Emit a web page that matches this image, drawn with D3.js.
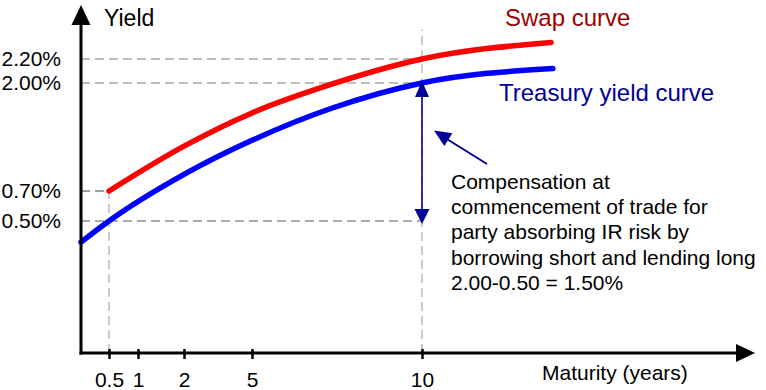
<!DOCTYPE html>
<html>
<head>
<meta charset="utf-8">
<script src="https://cdn.jsdelivr.net/npm/d3@7"></script>
<style>
  body { margin: 0; background: #fff; }
  text { font-family: "Liberation Sans", Arial, sans-serif; }
</style>
</head>
<body>
<svg id="chart" width="766" height="390"></svg>
<script>
// values
const maturityTicks = [0.5, 1, 2, 5, 10];
const yieldTicks = [0.5, 0.7, 2.0, 2.2];

const swapMaturity = [0.5, 2, 5, 7.3, 10, 13.8];
const swapYield = [0.70, 1.24, 1.64, 1.98, 2.20, 2.34];

const tsyMaturity = [0, 0.5, 2, 5, 7.3, 10, 13.85];
const tsyYield = [0.42, 0.50, 0.90, 1.31, 1.69, 2.00, 2.12];

const noteLines = [
  "Compensation at",
  "commencement of trade for",
  "party absorbing IR risk by",
  "borrowing short and lending long",
  "2.00-0.50 = 1.50%"
];

const swap = swapMaturity.map((m, i) => ({m: m, y: swapYield[i]}));
const tsy = tsyMaturity.map((m, i) => ({m: m, y: tsyYield[i]}));

let svg = d3.select('#chart');

// the axes in the picture are not even, so piecewise scales
let x = d3.scaleLinear()
  .domain([0, 0.5, 1, 2, 5, 10, 15])
  .range([81, 109, 138, 184, 252, 422, 592]);

let y = d3.scaleLinear()
  .domain([0, 0.5, 0.7, 2.0, 2.2, 2.5])
  .range([353, 221, 191, 83, 59, 23.5]);

const navy = "#000096";

function arrowHead(g, tx, ty, fx, fy, len, half, color) {
  let dx = tx - fx, dy = ty - fy;
  let d = Math.sqrt(dx * dx + dy * dy);
  let ux = dx / d, uy = dy / d;
  let bx = tx - ux * len, by = ty - uy * len;
  let pts = [[tx, ty], [bx - uy * half, by + ux * half], [bx + uy * half, by - ux * half]];
  g.append("path")
    .attr("d", "M" + pts.map(p => p.join(",")).join("L") + "Z")
    .attr("fill", color);
}

// dashed guide lines
let guides = svg.append("g")
  .attr("fill", "none")
  .attr("stroke-width", 1.3)
  .attr("stroke-dasharray", "9,5");

function guide(x1, y1, x2, y2, color) {
  guides.append("line")
    .attr("x1", x1).attr("y1", y1)
    .attr("x2", x2).attr("y2", y2)
    .attr("stroke", color);
}

guide(x(0), y(2.2), x(10), y(2.2), "#a8a8a8");
guide(x(0), y(2.0), x(10), y(2.0), "#a8a8a8");
guide(x(0), y(0.7), x(0.5), y(0.7), "#808080");
guide(x(0), y(0.5), x(10), y(0.5), "#909090");
guide(x(0.5), y(0), x(0.5), y(0.7), "#b0b0b0");
guide(x(10), y(0), x(10), y(2.45), "#b0b0b0");

// curves
let line = d3.line()
  .x(d => x(d.m))
  .y(d => y(d.y))
  .curve(d3.curveMonotoneX);

svg.append("path")
  .datum(swap)
  .attr("fill", "none")
  .attr("stroke", "#ff0000")
  .attr("stroke-width", 5.5)
  .attr("stroke-linecap", "round")
  .attr("d", line);

svg.append("path")
  .datum(tsy)
  .attr("fill", "none")
  .attr("stroke", "#0000ff")
  .attr("stroke-width", 5.5)
  .attr("stroke-linecap", "round")
  .attr("d", line);

// axes
let axes = svg.append("g");

axes.append("line")
  .attr("x1", x(0)).attr("y1", y(0) + 1.5)
  .attr("x2", x(0)).attr("y2", 24)
  .attr("stroke", "#000").attr("stroke-width", 3);
arrowHead(axes, x(0), 5, x(0), 100, 20, 9.5, "#000");

axes.append("line")
  .attr("x1", x(0) - 1.5).attr("y1", y(0))
  .attr("x2", 738).attr("y2", y(0))
  .attr("stroke", "#000").attr("stroke-width", 3);
arrowHead(axes, 755, y(0), 600, y(0), 19, 9, "#000");

let xAxis = svg.append("g")
  .attr("transform", "translate(0," + y(0) + ")")
  .call(d3.axisBottom(x)
    .tickValues(maturityTicks)
    .tickSize(6)
    .tickPadding(13)
    .tickFormat(d3.format("")));
xAxis.select(".domain").remove();
xAxis.selectAll(".tick line")
  .attr("y1", -4)
  .attr("stroke", "#000")
  .attr("stroke-width", 2.5);
xAxis.selectAll(".tick text")
  .attr("fill", "#000")
  .style("font-size", "21px")
  .style("font-family", "'Liberation Sans', Arial, sans-serif");

let yAxis = svg.append("g")
  .attr("transform", "translate(" + x(0) + ",0)")
  .call(d3.axisLeft(y)
    .tickValues(yieldTicks)
    .tickSize(0)
    .tickPadding(20)
    .tickFormat(d => d.toFixed(2) + "%"));
yAxis.select(".domain").remove();
yAxis.selectAll(".tick text")
  .attr("fill", "#000")
  .attr("dy", "0.3em")
  .style("font-size", "21px")
  .style("font-family", "'Liberation Sans', Arial, sans-serif");

svg.append("text")
  .attr("x", 104).attr("y", 26)
  .style("font-size", "23px")
  .text("Yield");

svg.append("text")
  .attr("x", 542).attr("y", 380)
  .style("font-size", "21px")
  .text("Maturity (years)");

svg.append("text")
  .attr("x", 505).attr("y", 26)
  .attr("fill", "#a00000")
  .style("font-size", "24px")
  .text("Swap curve");

svg.append("text")
  .attr("x", 499).attr("y", 101)
  .attr("fill", navy)
  .style("font-size", "24px")
  .text("Treasury yield curve");

// spread arrow between 2.00% and 0.50% at 10y
let ann = svg.append("g");
ann.append("line")
  .attr("x1", x(10)).attr("y1", y(2.0) + 10)
  .attr("x2", x(10)).attr("y2", y(0.5) - 10)
  .attr("stroke", navy).attr("stroke-width", 1.6);
arrowHead(ann, x(10), y(2.0) - 2, x(10), y(0.5), 16, 7, navy);
arrowHead(ann, x(10), y(0.5) + 3, x(10), y(2.0), 15, 7.5, navy);

// pointer from the note
ann.append("line")
  .attr("x1", 487).attr("y1", 164)
  .attr("x2", 442).attr("y2", 136)
  .attr("stroke", navy).attr("stroke-width", 2);
arrowHead(ann, 434, 130.5, 487, 164, 17, 7.5, navy);

svg.append("text")
  .style("font-size", "21px")
  .attr("fill", "#000")
  .selectAll("tspan")
  .data(noteLines)
  .enter()
  .append("tspan")
  .attr("x", 451)
  .attr("y", (d, i) => 189 + i * 25.2)
  .text(d => d);
</script>
</body>
</html>
